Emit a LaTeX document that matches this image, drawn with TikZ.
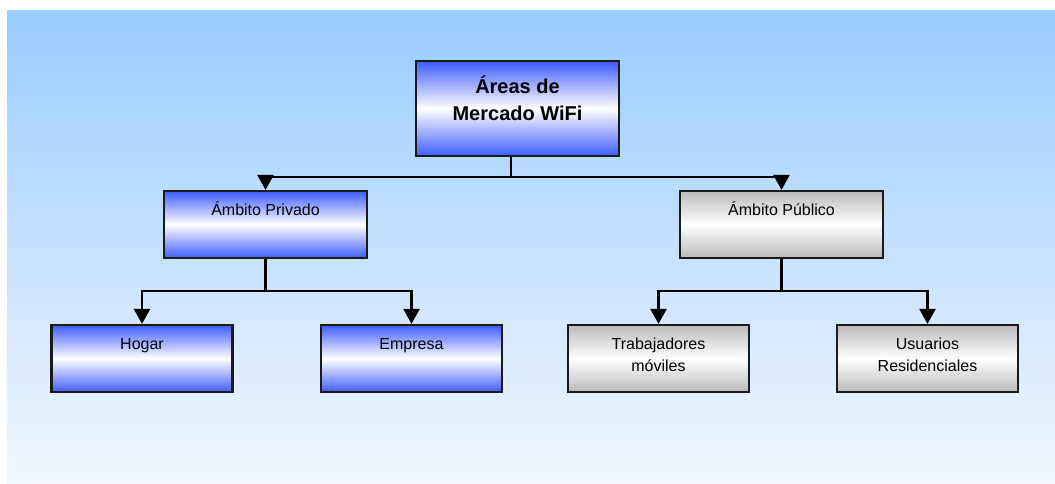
\documentclass[tikz,border=0pt]{standalone}
\usepackage{fontspec}
\setmainfont{Liberation Sans}
\usepackage{xcolor}
\definecolor{bg-top}{HTML}{99CCFF}
\definecolor{bg-bottom}{HTML}{F2F7FF}
\definecolor{area-blue}{HTML}{3F5CFF}
\definecolor{area-gray}{HTML}{BABABA}
\definecolor{area-border}{HTML}{1A1A1A}
\usetikzlibrary{
  arrows.meta,
  positioning,
  calc
}

\begin{document}
\begin{tikzpicture}[
    x=1pt, y=-1pt,
    area/.style={
      rectangle,
      draw=area-border,
      line width=2.2pt,
      minimum width=181pt,
      minimum height=67pt,
      inner sep=0pt
    },
    blue area/.style={
      area,
      top color=area-blue,
      bottom color=area-blue,
      middle color=white
    },
    gray area/.style={
      area,
      top color=area-gray,
      bottom color=area-gray,
      middle color=white
    },
    label text/.style={
      anchor=base,
      inner sep=0pt,
      align=center,
      font=\fontsize{16}{22}\selectfont,
      text=black
    },
    link/.style={
      -{Triangle[length=15pt,width=16pt]},
      line width=2.3pt,
      color=black
    }
  ]
    \useasboundingbox (0,0) rectangle (1055,483);
    \fill[top color=bg-top, bottom color=bg-bottom] (7,10) rectangle (1055,483);

    \node[blue area, minimum width=203pt, minimum height=95pt] (root) at (517.5,108.5) {};
    \node[blue area, minimum width=203pt] (privado) at (265.5,224.5) {};
    \node[gray area, minimum width=203pt] (publico) at (781.5,224.5) {};
    \node[blue area] (hogar)   at (142,358.5) {};
    \node[blue area] (empresa) at (411.5,358.5) {};
    \node[gray area] (moviles) at (658.5,358.5) {};
    \node[gray area] (usuarios) at (927.5,358.5) {};

    \node[label text, font=\bfseries\fontsize{20}{27}\selectfont] (root-t)
          at ($(root.north)+(0,61)$) {Áreas de\\Mercado WiFi};
    \node[label text] (privado-t)  at ($(privado.north)+(0,26)$)  {Ámbito Privado};
    \node[label text] (publico-t)  at ($(publico.north)+(0,26)$)  {Ámbito Público};
    \node[label text] (hogar-t)    at ($(hogar.north)+(0,26)$)    {Hogar};
    \node[label text] (empresa-t)  at ($(empresa.north)+(0,26)$)  {Empresa};
    \node[label text] (moviles-t)  at ($(moviles.north)+(0,48)$)  {Trabajadores\\móviles};
    \node[label text] (usuarios-t) at ($(usuarios.north)+(0,48)$) {Usuarios\\Residenciales};

    \coordinate (root-bus)    at (511,177);
    \coordinate (privado-bus) at (265.5,291);
    \coordinate (publico-bus) at (781.5,291);

    % root -> privado, publico
    \draw[link] ([xshift=-6.5pt]root.south) -- (root-bus) -| (privado.north);
    \draw[link] (root-bus) -| (publico.north);
    % privado -> hogar, empresa
    \draw[link] (privado.south) -- (privado-bus) -| (hogar.north);
    \draw[link] (privado-bus) -| (empresa.north);
    % publico -> moviles, usuarios
    \draw[link] (publico.south) -- (publico-bus) -| (moviles.north);
    \draw[link] (publico-bus) -| (usuarios.north);
  \end{tikzpicture}
\end{document}
